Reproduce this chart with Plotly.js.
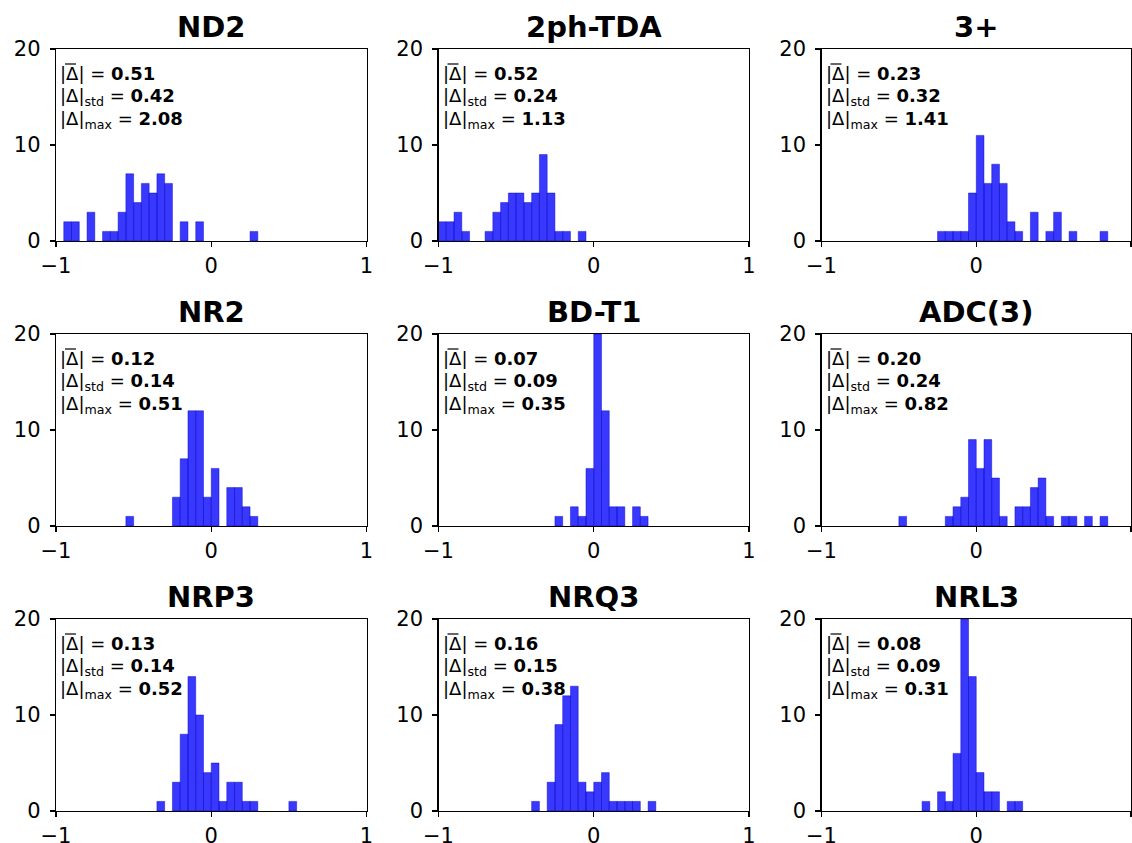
<!DOCTYPE html>
<html>
<head>
<meta charset="utf-8">
<script src="https://cdn.plot.ly/plotly-3.0.1.min.js"></script>
<style>html,body{margin:0;padding:0;background:#fff;}</style>
</head>
<body>
<div id="chart" style="width:1132px;height:843px;"></div>
<script>
// ---- data ----
const BIN_WIDTH = 0.05;
const titles = ["ND2", "2ph-TDA", "3+", "NR2", "BD-T1", "ADC(3)", "NRP3", "NRQ3", "NRL3"];
const meanAbs = ["0.51", "0.52", "0.23", "0.12", "0.07", "0.20", "0.13", "0.16", "0.08"];
const stdAbs  = ["0.42", "0.24", "0.32", "0.14", "0.09", "0.24", "0.14", "0.15", "0.09"];
const maxAbs  = ["2.08", "1.13", "1.41", "0.51", "0.35", "0.82", "0.52", "0.38", "0.31"];

// bin centres and counts
const nd2X = [-0.925,-0.875,-0.775,-0.675,-0.625,-0.575,-0.525,-0.475,-0.425,-0.375,-0.325,-0.275,-0.175,-0.075,0.275];
const nd2Y = [2,2,3,1,1,3,7,4,6,5,7,6,2,2,1];
const tdaX = [-0.975,-0.925,-0.875,-0.825,-0.675,-0.625,-0.575,-0.525,-0.475,-0.425,-0.375,-0.325,-0.275,-0.225,-0.175,-0.075];
const tdaY = [2,2,3,1,1,3,4,5,5,4,5,9,5,1,1,1];
const threeX = [-0.225,-0.175,-0.125,-0.075,-0.025,0.025,0.075,0.125,0.175,0.225,0.275,0.375,0.475,0.525,0.625,0.825];
const threeY = [1,1,1,1,5,11,6,8,6,2,1,3,1,3,1,1];
const nr2X = [-0.525,-0.225,-0.175,-0.125,-0.075,-0.025,0.025,0.125,0.175,0.225,0.275];
const nr2Y = [1,3,7,12,12,3,6,4,4,2,1];
const bdX = [-0.225,-0.125,-0.075,-0.025,0.025,0.075,0.125,0.175,0.275,0.325];
const bdY = [1,2,1,6,20,12,2,2,2,1];
const adcX = [-0.475,-0.175,-0.125,-0.075,-0.025,0.025,0.075,0.125,0.175,0.275,0.325,0.375,0.425,0.475,0.575,0.625,0.725,0.825];
const adcY = [1,1,2,3,9,6,9,5,1,2,2,4,5,1,1,1,1,1];
const nrp3X = [-0.325,-0.225,-0.175,-0.125,-0.075,-0.025,0.025,0.075,0.125,0.175,0.225,0.275,0.525];
const nrp3Y = [1,3,8,14,10,4,5,1,3,3,1,1,1];
const nrq3X = [-0.375,-0.275,-0.225,-0.175,-0.125,-0.075,-0.025,0.025,0.075,0.125,0.175,0.225,0.275,0.375];
const nrq3Y = [1,3,9,12,13,3,2,3,4,1,1,1,1,1];
const nrl3X = [-0.325,-0.225,-0.175,-0.125,-0.075,-0.025,0.025,0.075,0.125,0.225,0.275];
const nrl3Y = [1,2,1,6,20,14,4,2,2,1,1];

const xTickVals = [-1, 0, 1];
const xTickText = ["\u22121", "0", "1"];
const yTickVals = [0, 10, 20];
const yTickText = ["0", "10", "20"];

const seriesX = [nd2X, tdaX, threeX, nr2X, bdX, adcX, nrp3X, nrq3X, nrl3X];
const seriesY = [nd2Y, tdaY, threeY, nr2Y, bdY, adcY, nrp3Y, nrq3Y, nrl3Y];

// ---- layout geometry (pixels) ----
const W = 1132, H = 843;
const colPx = [[56, 366.5], [438.5, 749], [821.5, 1131]];
const rowPx = [[49, 241], [334, 526], [619, 811]];

const FONT = "DejaVu Sans, Liberation Sans, sans-serif";
const traces = [];
const layout = {
  width: W, height: H,
  margin: {l: 0, r: 0, t: 0, b: 0},
  paper_bgcolor: "#ffffff",
  plot_bgcolor: "#ffffff",
  showlegend: false,
  bargap: 0,
  font: {family: FONT, color: "#000"},
  annotations: [],
  shapes: []
};

for (let i = 0; i < 9; i++) {
  const r = Math.floor(i / 3), c = i % 3;
  const sfx = i === 0 ? "" : String(i + 1);
  const xa = "x" + sfx, ya = "y" + sfx;
  traces.push({
    type: "bar",
    x: seriesX[i],
    y: seriesY[i],
    width: BIN_WIDTH,
    xaxis: xa, yaxis: ya,
    marker: {color: "rgba(0,0,255,0.78)", line: {color: "rgba(0,0,190,0.55)", width: 0.8}},
    hoverinfo: "x+y"
  });
  const axCommon = {
    showline: true, mirror: true, linecolor: "#000", linewidth: 1.2,
    ticks: "outside", ticklen: 5, tickwidth: 1.1, tickcolor: "#000",
    showgrid: false, zeroline: false,
    tickfont: {family: FONT, size: 21, color: "#000"},
    fixedrange: true
  };
  layout["xaxis" + sfx] = Object.assign({}, axCommon, {
    domain: [colPx[c][0] / W, colPx[c][1] / W],
    anchor: ya, range: [-1, 1],
    tickmode: "array", tickvals: xTickVals, ticktext: xTickText,
    ticklabelstandoff: 1
  });
  layout["yaxis" + sfx] = Object.assign({}, axCommon, {
    domain: [1 - rowPx[r][1] / H, 1 - rowPx[r][0] / H],
    anchor: xa, range: [0, 20],
    tickmode: "array", tickvals: yTickVals, ticktext: yTickText,
    ticklabelstandoff: 5
  });
  // panel title
  layout.annotations.push({
    xref: xa + " domain", yref: ya + " domain",
    x: 0.5, y: 1, xanchor: "center", yanchor: "bottom", yshift: 3,
    showarrow: false,
    text: "<b>" + titles[i] + "</b>",
    font: {family: FONT, size: 29, color: "#000"}
  });
  // stats text lines
  const lines = [
    "|\u0394| = <b>" + meanAbs[i] + "</b>",
    "|\u0394|<sub>std</sub> = <b>" + stdAbs[i] + "</b>",
    "|\u0394|<sub>max</sub> = <b>" + maxAbs[i] + "</b>"
  ];
  const pxDown = [24, 47.5, 71];
  for (let k = 0; k < 3; k++) {
    layout.annotations.push({
      xref: xa + " domain", yref: ya + " domain",
      x: 0.008, y: 1 - pxDown[k] / 192, xanchor: "left", yanchor: "middle",
      showarrow: false, align: "left",
      text: lines[k],
      font: {family: FONT, size: 18, color: "#000"}
    });
  }
  // overline (mean bar) above the Delta of the first line
  const ox0 = colPx[c][0] + 9, ox1 = colPx[c][0] + 20;
  const oy = rowPx[r][0] + 15;
  layout.shapes.push({
    type: "line", xref: "paper", yref: "paper",
    x0: ox0 / W, x1: ox1 / W, y0: 1 - oy / H, y1: 1 - oy / H,
    line: {color: "#000", width: 1.2}
  });
}

Plotly.newPlot("chart", traces, layout, {staticPlot: true, displayModeBar: false});
</script>
</body>
</html>
